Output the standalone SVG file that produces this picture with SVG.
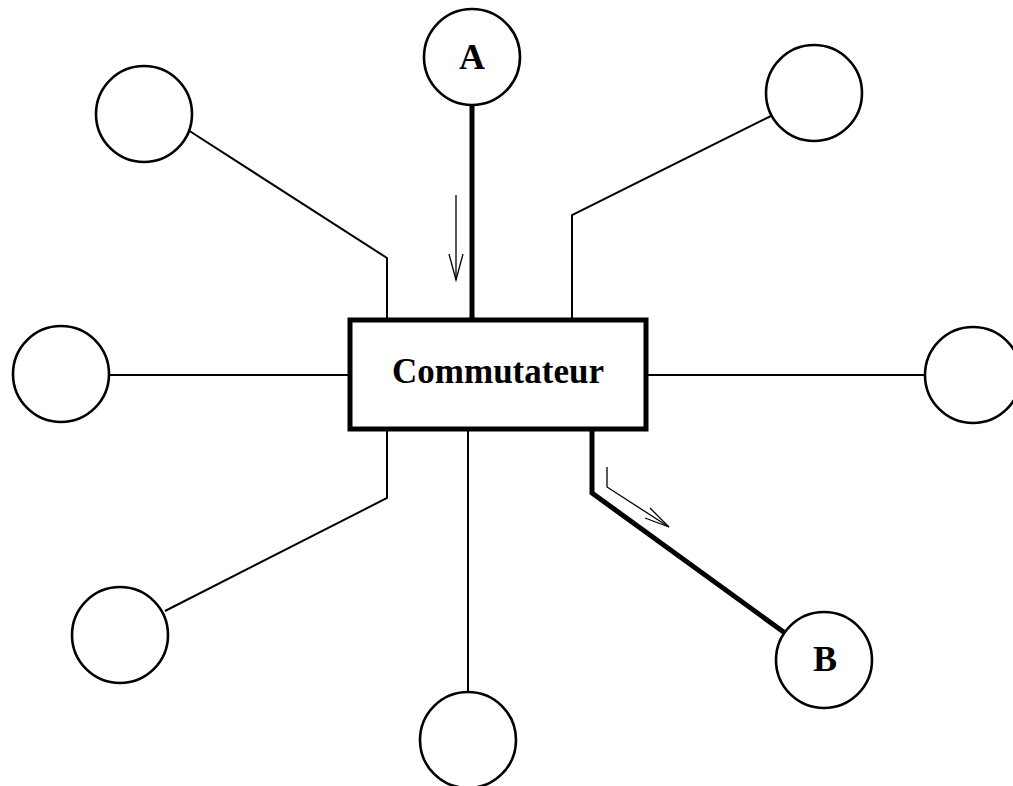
<svg xmlns="http://www.w3.org/2000/svg" width="1013" height="786" viewBox="0 0 1013 786">
<style>
.n{fill:#fff;stroke:#000;stroke-width:2.6}
.l{fill:none;stroke:#000;stroke-width:2}
.t{fill:none;stroke:#000;stroke-width:5}
.a{fill:none;stroke:#000;stroke-width:1.3}
.lb{font-family:"Liberation Serif",serif;font-weight:bold;text-anchor:middle;fill:#000}
</style>
<rect width="1013" height="786" fill="#fff"/>
<g id="connectors">
<polyline class="l" points="188,130 387,258 387,320"/>
<polyline class="l" points="773,115 572,215 572,320"/>
<line class="l" x1="108" y1="375" x2="350" y2="375"/>
<line class="l" x1="646" y1="375" x2="925" y2="375"/>
<polyline class="l" points="165,611 387,498 387,429"/>
<line class="l" x1="468" y1="429" x2="468" y2="693"/>
<line class="t" x1="472" y1="104" x2="472" y2="320"/>
<polyline class="t" points="592,429 592,493 785,633"/>
<polyline class="a" points="456,195 456,280"/>
<polyline class="a" points="449,254 456,280 463,254"/>
<polyline class="a" points="607,467 607,487 669,527"/>
<polyline class="a" points="650,508 669,527 645,518"/>
</g>
<g id="switch">
<rect x="350" y="320" width="296" height="109" fill="#fff" stroke="#000" stroke-width="5"/>
<text class="lb" x="498" y="383" font-size="35">Commutateur</text>
</g>
<g id="nodeA"><circle class="n" cx="472" cy="57" r="48"/><text class="lb" x="472" y="69" font-size="36">A</text></g>
<g id="nodeTL"><circle class="n" cx="144" cy="114" r="48"/></g>
<g id="nodeTR"><circle class="n" cx="814" cy="93" r="48"/></g>
<g id="nodeL"><circle class="n" cx="61" cy="374" r="48"/></g>
<g id="nodeR"><circle class="n" cx="973" cy="375" r="48"/></g>
<g id="nodeBL"><circle class="n" cx="120" cy="635" r="48"/></g>
<g id="nodeB"><circle class="n" cx="468" cy="740" r="48"/></g>
<g id="nodeBB"><circle class="n" cx="824" cy="660" r="48"/><text class="lb" x="825" y="671" font-size="36">B</text></g>
</svg>
